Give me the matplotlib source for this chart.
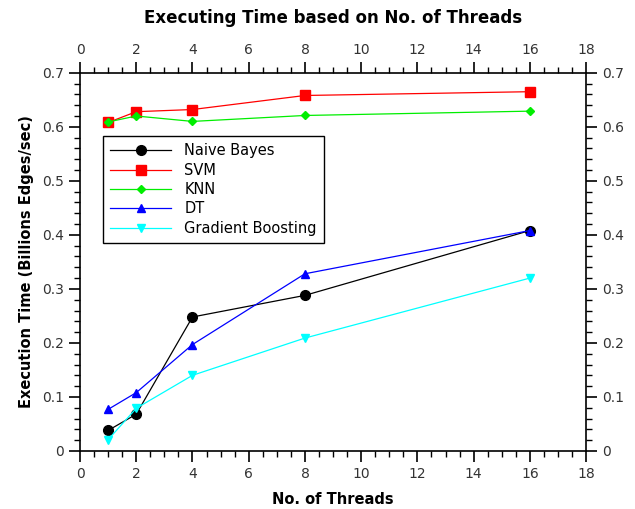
import matplotlib
matplotlib.use('Agg')
import matplotlib.pyplot as plt
from matplotlib.ticker import MultipleLocator

threads = [1, 2, 4, 8, 16]
naive_bayes = [0.038, 0.068, 0.248, 0.288, 0.408]
svm = [0.608, 0.628, 0.632, 0.658, 0.665]
knn = [0.609, 0.620, 0.610, 0.621, 0.629]
dt = [0.077, 0.108, 0.197, 0.328, 0.408]
grad_boost = [0.021, 0.079, 0.140, 0.209, 0.320]

fig = plt.figure(figsize=(6.35, 5.09), dpi=100)
ax = fig.add_axes([0.126, 0.114, 0.797, 0.743])

ax.plot(threads, naive_bayes, marker='o', color='black', lw=0.9, ms=7, label='Naive Bayes')
ax.plot(threads, svm, marker='s', color='red', lw=0.9, ms=6.5, label='SVM')
ax.plot(threads, knn, marker='D', color='#00ee00', lw=0.9, ms=4, label='KNN')
ax.plot(threads, dt, marker='^', color='blue', lw=0.9, ms=6, label='DT')
ax.plot(threads, grad_boost, marker='v', color='cyan', lw=0.9, ms=6, label='Gradient Boosting')

ax.set_xlim(0, 18)
ax.set_ylim(0, 0.7)
ax.xaxis.set_major_locator(MultipleLocator(2))
ax.xaxis.set_minor_locator(MultipleLocator(0.5))
ax.yaxis.set_major_locator(MultipleLocator(0.1))
ax.yaxis.set_minor_locator(MultipleLocator(0.02))
ax.yaxis.set_major_formatter(plt.FuncFormatter(lambda v, p: '0' if v == 0 else '%.1f' % v))

ax.tick_params(which='both', direction='out', top=True, right=True,
               labeltop=True, labelright=True, labelsize=10, colors='#333333')
ax.tick_params(which='both', color='black')
ax.tick_params(which='major', length=8, width=1.2)
ax.tick_params(which='minor', length=4, width=1)
for s in ax.spines.values():
    s.set_linewidth(1.2)

ax.set_title('Executing Time based on No. of Threads', fontweight='bold', fontsize=12, pad=14)
ax.set_xlabel('No. of Threads', fontweight='bold', fontsize=10.5, labelpad=8)
ax.set_ylabel('Execution Time (Billions Edges/sec)', fontweight='bold', fontsize=10.5, labelpad=6)

leg = ax.legend(loc='upper left', bbox_to_anchor=(0.045, 0.833), fancybox=False,
                edgecolor='black', framealpha=1, fontsize=10.5, handlelength=4.2,
                borderpad=0.5, labelspacing=0.3, handletextpad=0.9, borderaxespad=0)
leg.get_frame().set_linewidth(1.0)

fig.savefig('out.png', dpi=100)
